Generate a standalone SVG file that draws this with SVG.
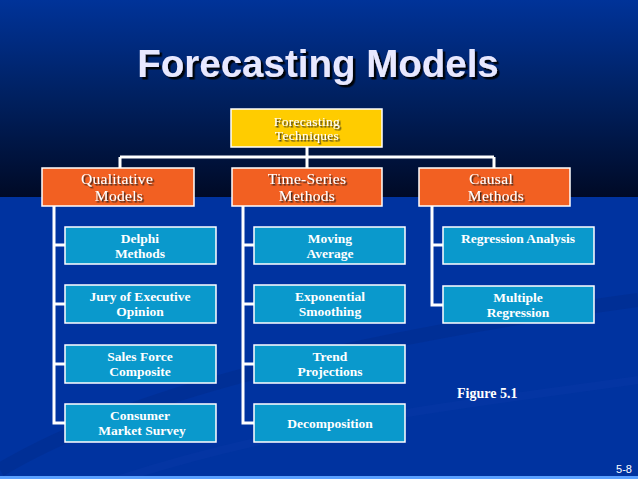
<svg xmlns="http://www.w3.org/2000/svg" width="638" height="479" viewBox="0 0 638 479">
<defs>
<linearGradient id="top" x1="0" y1="0" x2="0" y2="1">
<stop offset="0" stop-color="#003399"/>
<stop offset="0.5" stop-color="#00205f"/>
<stop offset="1" stop-color="#000a26"/>
</linearGradient>
<filter id="sh" x="-10%" y="-10%" width="130%" height="140%">
<feDropShadow dx="1.5" dy="1.5" stdDeviation="0.3" flood-color="#1a1a1a" flood-opacity="0.9"/>
</filter>
<filter id="tsh" x="-10%" y="-20%" width="130%" height="150%">
<feDropShadow dx="2.5" dy="2.5" stdDeviation="0.5" flood-color="#000000" flood-opacity="0.9"/>
</filter>
</defs>
<style>
.bx{stroke:#ffffff;stroke-width:1.5}
.y{fill:#ffcc00}
.o{fill:#f26022}
.c{fill:#0a99cc}
.lt{font-family:"Liberation Serif",serif;fill:#ffffff;text-anchor:middle;filter:url(#sh)}
.t1{font-size:13.5px;letter-spacing:0.3px}
.t2{font-size:15.5px;letter-spacing:0.3px}
.t3{font-size:13.5px;font-weight:bold;filter:none}
.cn{stroke:#ffffff;stroke-width:3;fill:none}
</style>
<rect x="0" y="0" width="638" height="479" fill="#0033a0"/>
<rect x="0" y="0" width="638" height="197" fill="url(#top)"/>
<path d="M0 470 C150 380 420 330 638 300" stroke="#002c8c" stroke-width="14" fill="none" opacity="0.5"/>
<path d="M120 479 C300 420 500 400 638 380" stroke="#0a3aa8" stroke-width="8" fill="none" opacity="0.4"/>
<rect x="0" y="476" width="638" height="3" fill="#5aa0ff"/>
<text x="318" y="77" font-family="Liberation Sans,Arial,sans-serif" font-weight="bold" font-size="38.5" fill="#e8e8ff" text-anchor="middle" filter="url(#tsh)">Forecasting Models</text>

<g id="connectors">
<path class="cn" d="M307 147 V157 M120 157 H494 M120 157 V168 M307 157 V168 M494 157 V168"/>
<path class="cn" d="M54 206 V423 H65 M54 245 H65 M54 304 H65 M54 364 H65"/>
<path class="cn" d="M243 206 V423 H254 M243 245 H254 M243 304 H254 M243 364 H254"/>
<path class="cn" d="M432 206 V305 H443 M432 245 H443"/>
</g>

<g id="techniques"><rect class="bx y" x="231" y="109" width="151" height="38"/>
<text class="lt t1" x="307" y="126">Forecasting</text><text class="lt t1" x="307" y="140">Techniques</text></g>

<g id="qualitative"><rect class="bx o" x="42" y="168" width="152" height="38"/>
<text class="lt t2" x="117" y="184">Qualitative</text><text class="lt t2" x="119" y="201">Models</text></g>
<g id="timeseries"><rect class="bx o" x="232" y="168" width="150" height="38"/>
<text class="lt t2" x="307" y="184">Time-Series</text><text class="lt t2" x="307" y="201">Methods</text></g>
<g id="causal"><rect class="bx o" x="419" y="168" width="151" height="38"/>
<text class="lt t2" x="491" y="184">Causal</text><text class="lt t2" x="496" y="201">Methods</text></g>

<g id="delphi"><rect class="bx c" x="65" y="227" width="151" height="37"/>
<text class="lt t3" x="140" y="243">Delphi</text><text class="lt t3" x="140" y="258">Methods</text></g>
<g id="jury"><rect class="bx c" x="65" y="285" width="151" height="38"/>
<text class="lt t3" x="140" y="301">Jury of Executive</text><text class="lt t3" x="140" y="316">Opinion</text></g>
<g id="salesforce"><rect class="bx c" x="65" y="345" width="151" height="38"/>
<text class="lt t3" x="140" y="361">Sales Force</text><text class="lt t3" x="140" y="376">Composite</text></g>
<g id="consumer"><rect class="bx c" x="65" y="404" width="151" height="38"/>
<text class="lt t3" x="140" y="420">Consumer</text><text class="lt t3" x="142" y="435">Market Survey</text></g>

<g id="moving"><rect class="bx c" x="254" y="227" width="151" height="37"/>
<text class="lt t3" x="330" y="243">Moving</text><text class="lt t3" x="330" y="258">Average</text></g>
<g id="exponential"><rect class="bx c" x="254" y="285" width="151" height="38"/>
<text class="lt t3" x="330" y="301">Exponential</text><text class="lt t3" x="330" y="316">Smoothing</text></g>
<g id="trend"><rect class="bx c" x="254" y="345" width="151" height="38"/>
<text class="lt t3" x="330" y="361">Trend</text><text class="lt t3" x="330" y="376">Projections</text></g>
<g id="decomposition"><rect class="bx c" x="254" y="404" width="151" height="38"/>
<text class="lt t3" x="330" y="428">Decomposition</text></g>

<g id="regression"><rect class="bx c" x="443" y="227" width="151" height="37"/>
<text class="lt t3" x="518" y="243">Regression Analysis</text></g>
<g id="multiple"><rect class="bx c" x="443" y="286" width="151" height="37"/>
<text class="lt t3" x="518" y="302">Multiple</text><text class="lt t3" x="518" y="317">Regression</text></g>

<text x="457" y="398" font-family="Liberation Serif,serif" font-weight="bold" font-size="14" fill="#ffffff">Figure 5.1</text>
<text x="632" y="473" font-family="Liberation Sans,Arial,sans-serif" font-size="11" fill="#ffffff" text-anchor="end">5-8</text>
</svg>
